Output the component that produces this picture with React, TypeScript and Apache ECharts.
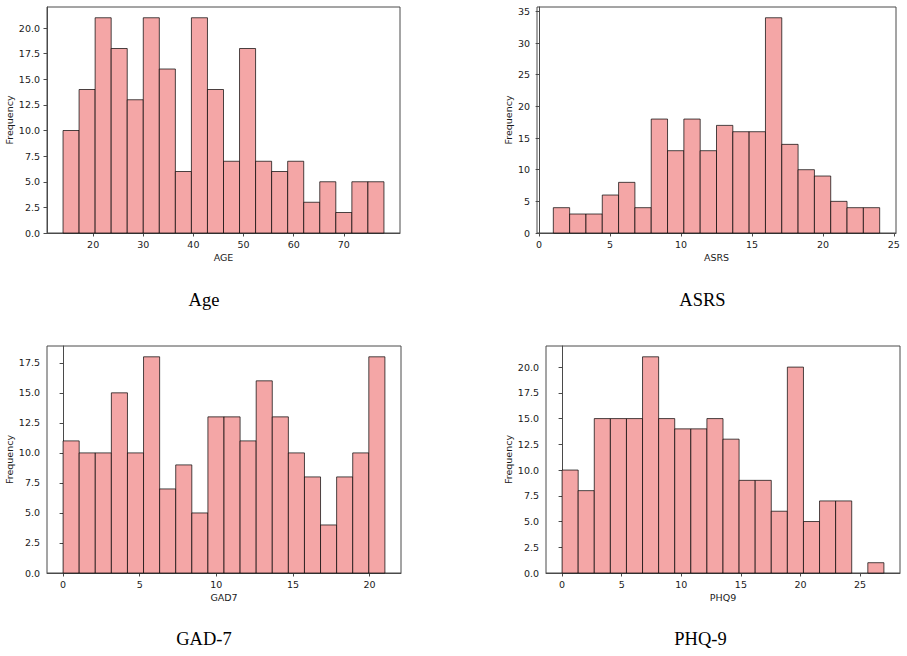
import React, { useEffect, useRef } from "react";
import * as echarts from "echarts";

// ---- Data ----
const ageRange = [14, 78];
const ageCounts = [10, 14, 21, 18, 13, 21, 16, 6, 21, 14, 7, 18, 7, 6, 7, 3, 5, 2, 5, 5];
const ageXTicks = [20, 30, 40, 50, 60, 70];
const ageYTicks = [0, 2.5, 5, 7.5, 10, 12.5, 15, 17.5, 20];

const asrsRange = [1, 24];
const asrsCounts = [4, 3, 3, 6, 8, 4, 18, 13, 18, 13, 17, 16, 16, 34, 14, 10, 9, 5, 4, 4];
const asrsXTicks = [0, 5, 10, 15, 20, 25];
const asrsYTicks = [0, 5, 10, 15, 20, 25, 30, 35];

const gadRange = [0, 21];
const gadCounts = [11, 10, 10, 15, 10, 18, 7, 9, 5, 13, 13, 11, 16, 13, 10, 8, 4, 8, 10, 18];
const gadXTicks = [0, 5, 10, 15, 20];
const gadYTicks = [0, 2.5, 5, 7.5, 10, 12.5, 15, 17.5];

const phqRange = [0, 27];
const phqCounts = [10, 8, 15, 15, 15, 21, 15, 14, 14, 15, 13, 9, 9, 6, 20, 5, 7, 7, 0, 1];
const phqXTicks = [0, 5, 10, 15, 20, 25];
const phqYTicks = [0, 2.5, 5, 7.5, 10, 12.5, 15, 17.5, 20];

const panelTitles = ["Age", "ASRS", "GAD-7", "PHQ-9"];
const xNames = ["AGE", "ASRS", "GAD7", "PHQ9"];

const FILL = "#F4A6A6";
const EDGE = "rgba(0,0,0,0.7)";
const SPINE = "#4a4a4a";
const TXT = "#1a1a1a";
const SANS = "DejaVu Sans";

function histData(range: number[], counts: number[]) {
  const n = counts.length;
  const w = (range[1] - range[0]) / n;
  return counts.map((c, i) => [range[0] + i * w, range[0] + (i + 1) * w, c]);
}

export default function App() {
  const ref = useRef<HTMLDivElement>(null);

  useEffect(() => {
    if (!ref.current) return;
    const chart = echarts.init(ref.current, null, { renderer: "svg" });

    const panels = [
      { range: ageRange, counts: ageCounts, xt: ageXTicks, yt: ageYTicks, dec: 1, grid: { left: 47, top: 7, width: 353, height: 226 }, yGap: 33 },
      { range: asrsRange, counts: asrsCounts, xt: asrsXTicks, yt: asrsYTicks, dec: 0, grid: { left: 537, top: 7, width: 359, height: 226 }, yGap: 24 },
      { range: gadRange, counts: gadCounts, xt: gadXTicks, yt: gadYTicks, dec: 1, grid: { left: 47, top: 346, width: 354, height: 227 }, yGap: 33 },
      { range: phqRange, counts: phqCounts, xt: phqXTicks, yt: phqYTicks, dec: 1, grid: { left: 546, top: 346, width: 354, height: 227 }, yGap: 33 },
    ];

    const grids: any[] = [];
    const xAxes: any[] = [];
    const yAxes: any[] = [];
    const series: any[] = [];

    panels.forEach((p, i) => {
      const span = p.range[1] - p.range[0];
      const maxC = Math.max(...p.counts);
      grids.push({
        ...p.grid,
        show: true,
        borderColor: SPINE,
        borderWidth: 1,
        backgroundColor: "transparent",
      });
      xAxes.push({
        type: "value",
        gridIndex: i,
        min: p.range[0] - span * 0.05,
        max: p.range[1] + span * 0.05,
        name: xNames[i],
        nameLocation: "middle",
        nameGap: 19,
        nameTextStyle: { fontFamily: SANS, fontSize: 9.5, color: TXT },
        axisLine: { show: true, onZero: false, lineStyle: { color: SPINE, width: 1 } },
        axisTick: { show: true, length: 3.5, lineStyle: { color: SPINE, width: 1 }, customValues: p.xt },
        axisLabel: { fontFamily: SANS, fontSize: 9.5, color: TXT, margin: 6, customValues: p.xt },
        splitLine: { show: false },
      });
      yAxes.push({
        type: "value",
        gridIndex: i,
        min: 0,
        max: maxC * 1.05,
        name: "Frequency",
        nameLocation: "middle",
        nameGap: p.yGap,
        nameRotate: 90,
        nameTextStyle: { fontFamily: SANS, fontSize: 9.5, color: TXT },
        axisLine: { show: true, lineStyle: { color: SPINE, width: 1 } },
        axisTick: { show: true, length: 3.5, lineStyle: { color: SPINE, width: 1 }, customValues: p.yt },
        axisLabel: {
          fontFamily: SANS,
          fontSize: 9.5,
          color: TXT,
          margin: 7,
          customValues: p.yt,
          formatter: (v: number) => v.toFixed(p.dec),
        },
        splitLine: { show: false },
      });
      series.push({
        type: "custom",
        xAxisIndex: i,
        yAxisIndex: i,
        data: histData(p.range, p.counts),
        encode: { x: [0, 1], y: 2 },
        clip: false,
        renderItem: (params: any, api: any) => {
          if (!(api.value(2) > 0)) return null;
          const s = api.coord([api.value(0), 0]);
          const e = api.coord([api.value(1), api.value(2)]);
          return {
            type: "rect",
            shape: { x: s[0], y: e[1], width: e[0] - s[0], height: s[1] - e[1] },
            style: { fill: FILL, stroke: EDGE, lineWidth: 1 },
          };
        },
      });
    });

    const capStyle = { fontFamily: "Liberation Serif", fontSize: 18.5, fill: "#000", align: "center", verticalAlign: "middle" };
    const caps = [
      { x: 204, y: 300 },
      { x: 702.5, y: 300 },
      { x: 204, y: 638.5 },
      { x: 700.5, y: 638.5 },
    ];

    chart.setOption({
      animation: false,
      backgroundColor: "#ffffff",
      grid: grids,
      xAxis: xAxes,
      yAxis: yAxes,
      series,
      graphic: caps.map((c, i) => ({
        type: "text",
        x: c.x,
        y: c.y,
        style: { ...capStyle, text: panelTitles[i] },
      })),
    });

    return () => chart.dispose();
  }, []);

  return (
    <div
      ref={ref}
      style={{ position: "fixed", left: 0, top: 0, width: 907, height: 656, background: "#fff" }}
    />
  );
}
